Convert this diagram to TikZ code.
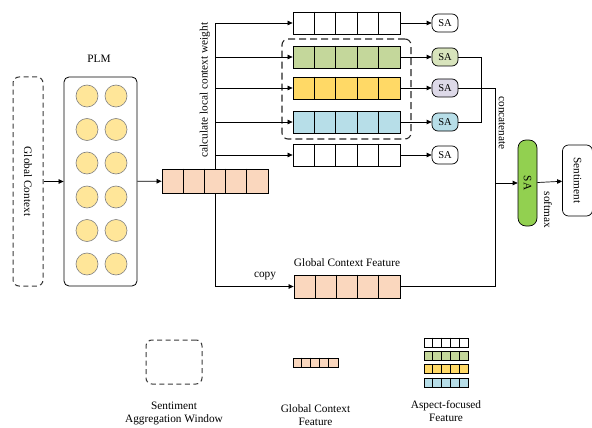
\documentclass[tikz,border=0pt]{standalone}
\usepackage{fontspec}
\setmainfont{Liberation Serif}
\usetikzlibrary{arrows.meta,calc}
\definecolor{peach}{HTML}{FAD7BE}
\definecolor{cyel}{HTML}{FFE699}
\definecolor{bgreen}{HTML}{C4D79B}
\definecolor{byellow}{HTML}{FFD966}
\definecolor{bblue}{HTML}{B7DEE8}
\definecolor{sgreen}{HTML}{D8E4BC}
\definecolor{slav}{HTML}{DDD9E8}
\definecolor{bigsa}{HTML}{92D050}
\definecolor{dgray}{HTML}{3A3A3A}
\newcommand\featbar[6]{%
  \node[draw, fill=#6, minimum width=#4pt, minimum height=#5pt, inner sep=0pt, line width=0.8pt] (#1) at (#2,#3) {};
  \foreach \i in {1,...,4} \draw[line width=0.6pt] ([xshift=\i*#4pt/5]#1.north west) -- ([xshift=\i*#4pt/5]#1.south west);
}
\tikzset{
  arr/.style={line width=0.7pt, -{Triangle[length=5pt,width=4.5pt]}},
  conn/.style={line width=0.7pt},
  lbl/.style={font=\fontsize{11.3}{13}\selectfont, inner sep=1pt},
  sabox/.style={draw, line width=0.7pt, rounded corners=6pt, minimum width=26pt, minimum height=18pt, inner sep=0pt, font=\fontsize{10.5}{11}\selectfont},
  dwin/.style={draw=dgray, line width=1pt, dash pattern=on 5pt off 3.5pt, rounded corners=6pt},
}
\begin{document}
\begin{tikzpicture}[x=1pt,y=-1pt]
\useasboundingbox (0,0) rectangle (592,428);
% Global context window
\node[dwin, minimum width=30pt, minimum height=209pt] (gc) at (28,181.5) {};
\node[lbl, rotate=-90] (gct) at (28,181.5) {Global Context};
% PLM
\node[draw, line width=0.8pt, rounded corners=5pt, minimum width=73pt, minimum height=209pt] (plm) at (100.5,181.5) {};
\node[lbl] (plmt) at (99,59) {PLM};
\foreach \r/\y in {1/96,2/129.5,3/163,4/197,5/230.5,6/264}
  \foreach \c/\x in {1/87,2/116}
    \node[circle, draw=gray, fill=cyel, line width=0.6pt, minimum size=22pt, inner sep=0pt] (c\r\c) at (\x,\y) {};
% feature bar
\featbar{feat}{215}{181}{106}{24}{peach}
\draw[arr] (gc) -- (plm);
\draw[arr] (plm) -- (feat);
% aspect bars
\featbar{a1}{346.5}{23}{107}{22}{white}
\featbar{a2}{346.5}{57}{107}{22}{bgreen}
\featbar{a3}{346.5}{88}{107}{22}{byellow}
\featbar{a4}{346.5}{122}{107}{22}{bblue}
\featbar{a5}{346.5}{155}{107}{22}{white}
\node[dwin, line width=1.1pt, draw=black!85, dash pattern=on 7pt off 4pt, minimum width=129pt, minimum height=100pt] (grp) at (346.5,89) {};
\foreach \i in {1,...,5} \draw[arr] (feat.north) |- (a\i);
\node[lbl, rotate=90] (clw) at (205,90) {calculate local context weight};
% SA nodes
\node[sabox, fill=white] (s1) at (445,23) {SA};
\node[sabox, fill=sgreen] (s2) at (445,57) {SA};
\node[sabox, fill=slav] (s3) at (445,88) {SA};
\node[sabox, fill=bblue] (s4) at (445,122) {SA};
\node[sabox, fill=white] (s5) at (445,155) {SA};
\foreach \i in {1,...,5} \draw[arr] (a\i) -- (s\i);
% global context feature
\featbar{gcf}{347}{286.5}{106}{23}{peach}
\node[lbl] (gcft) at (347,263) {Global Context Feature};
\draw[arr] (feat.south) |- (gcf);
\node[lbl] (copy) at (265,276) {copy};
% big SA and sentiment
\node[draw, fill=bigsa, line width=0.7pt, rounded corners=8pt, minimum width=19pt, minimum height=86pt, inner sep=0pt] (bsa) at (527.5,183) {};
\node[lbl, rotate=-90] (bsat) at (527.5,183) {SA};
\node[draw, line width=0.7pt, rounded corners=6pt, minimum width=30pt, minimum height=71pt, inner sep=0pt] (sent) at (577.5,180.5) {};
\node[lbl, rotate=-90] (sentt) at (577.5,180.5) {Sentiment};
\coordinate (jn) at (495,183);
\draw[conn] (s2.east) -| ($(s4.east)+(23,0)$) -- (s4.east);
\draw[arr] (s3.east) -| (jn) -- (bsa);
\draw[conn] (gcf.east) -| (jn);
\draw[arr] (bsa) -- (sent);
\node[lbl, rotate=-90] (cat) at (502,123) {concatenate};
\node[lbl, rotate=-90] (smx) at (548,210) {softmax};
% legend
\node[dwin, minimum width=56pt, minimum height=44pt] (lw) at (174,362) {};
\node[lbl, align=center] (lwt) at (174,413.5) {Sentiment\\Aggregation Window};
\featbar{lg}{315.5}{362.5}{45}{9}{peach}
\node[lbl, align=center] (lgt) at (315.5,415) {Global Context\\Feature};
\featbar{la1}{446}{342.5}{44}{9}{white}
\featbar{la2}{446}{355.8}{44}{9}{bgreen}
\featbar{la3}{446}{369.1}{44}{9}{byellow}
\featbar{la4}{446}{382.4}{44}{9}{bblue}
\node[lbl, align=center] (lat) at (446,411) {Aspect-focused\\Feature};
\end{tikzpicture}
\end{document}
